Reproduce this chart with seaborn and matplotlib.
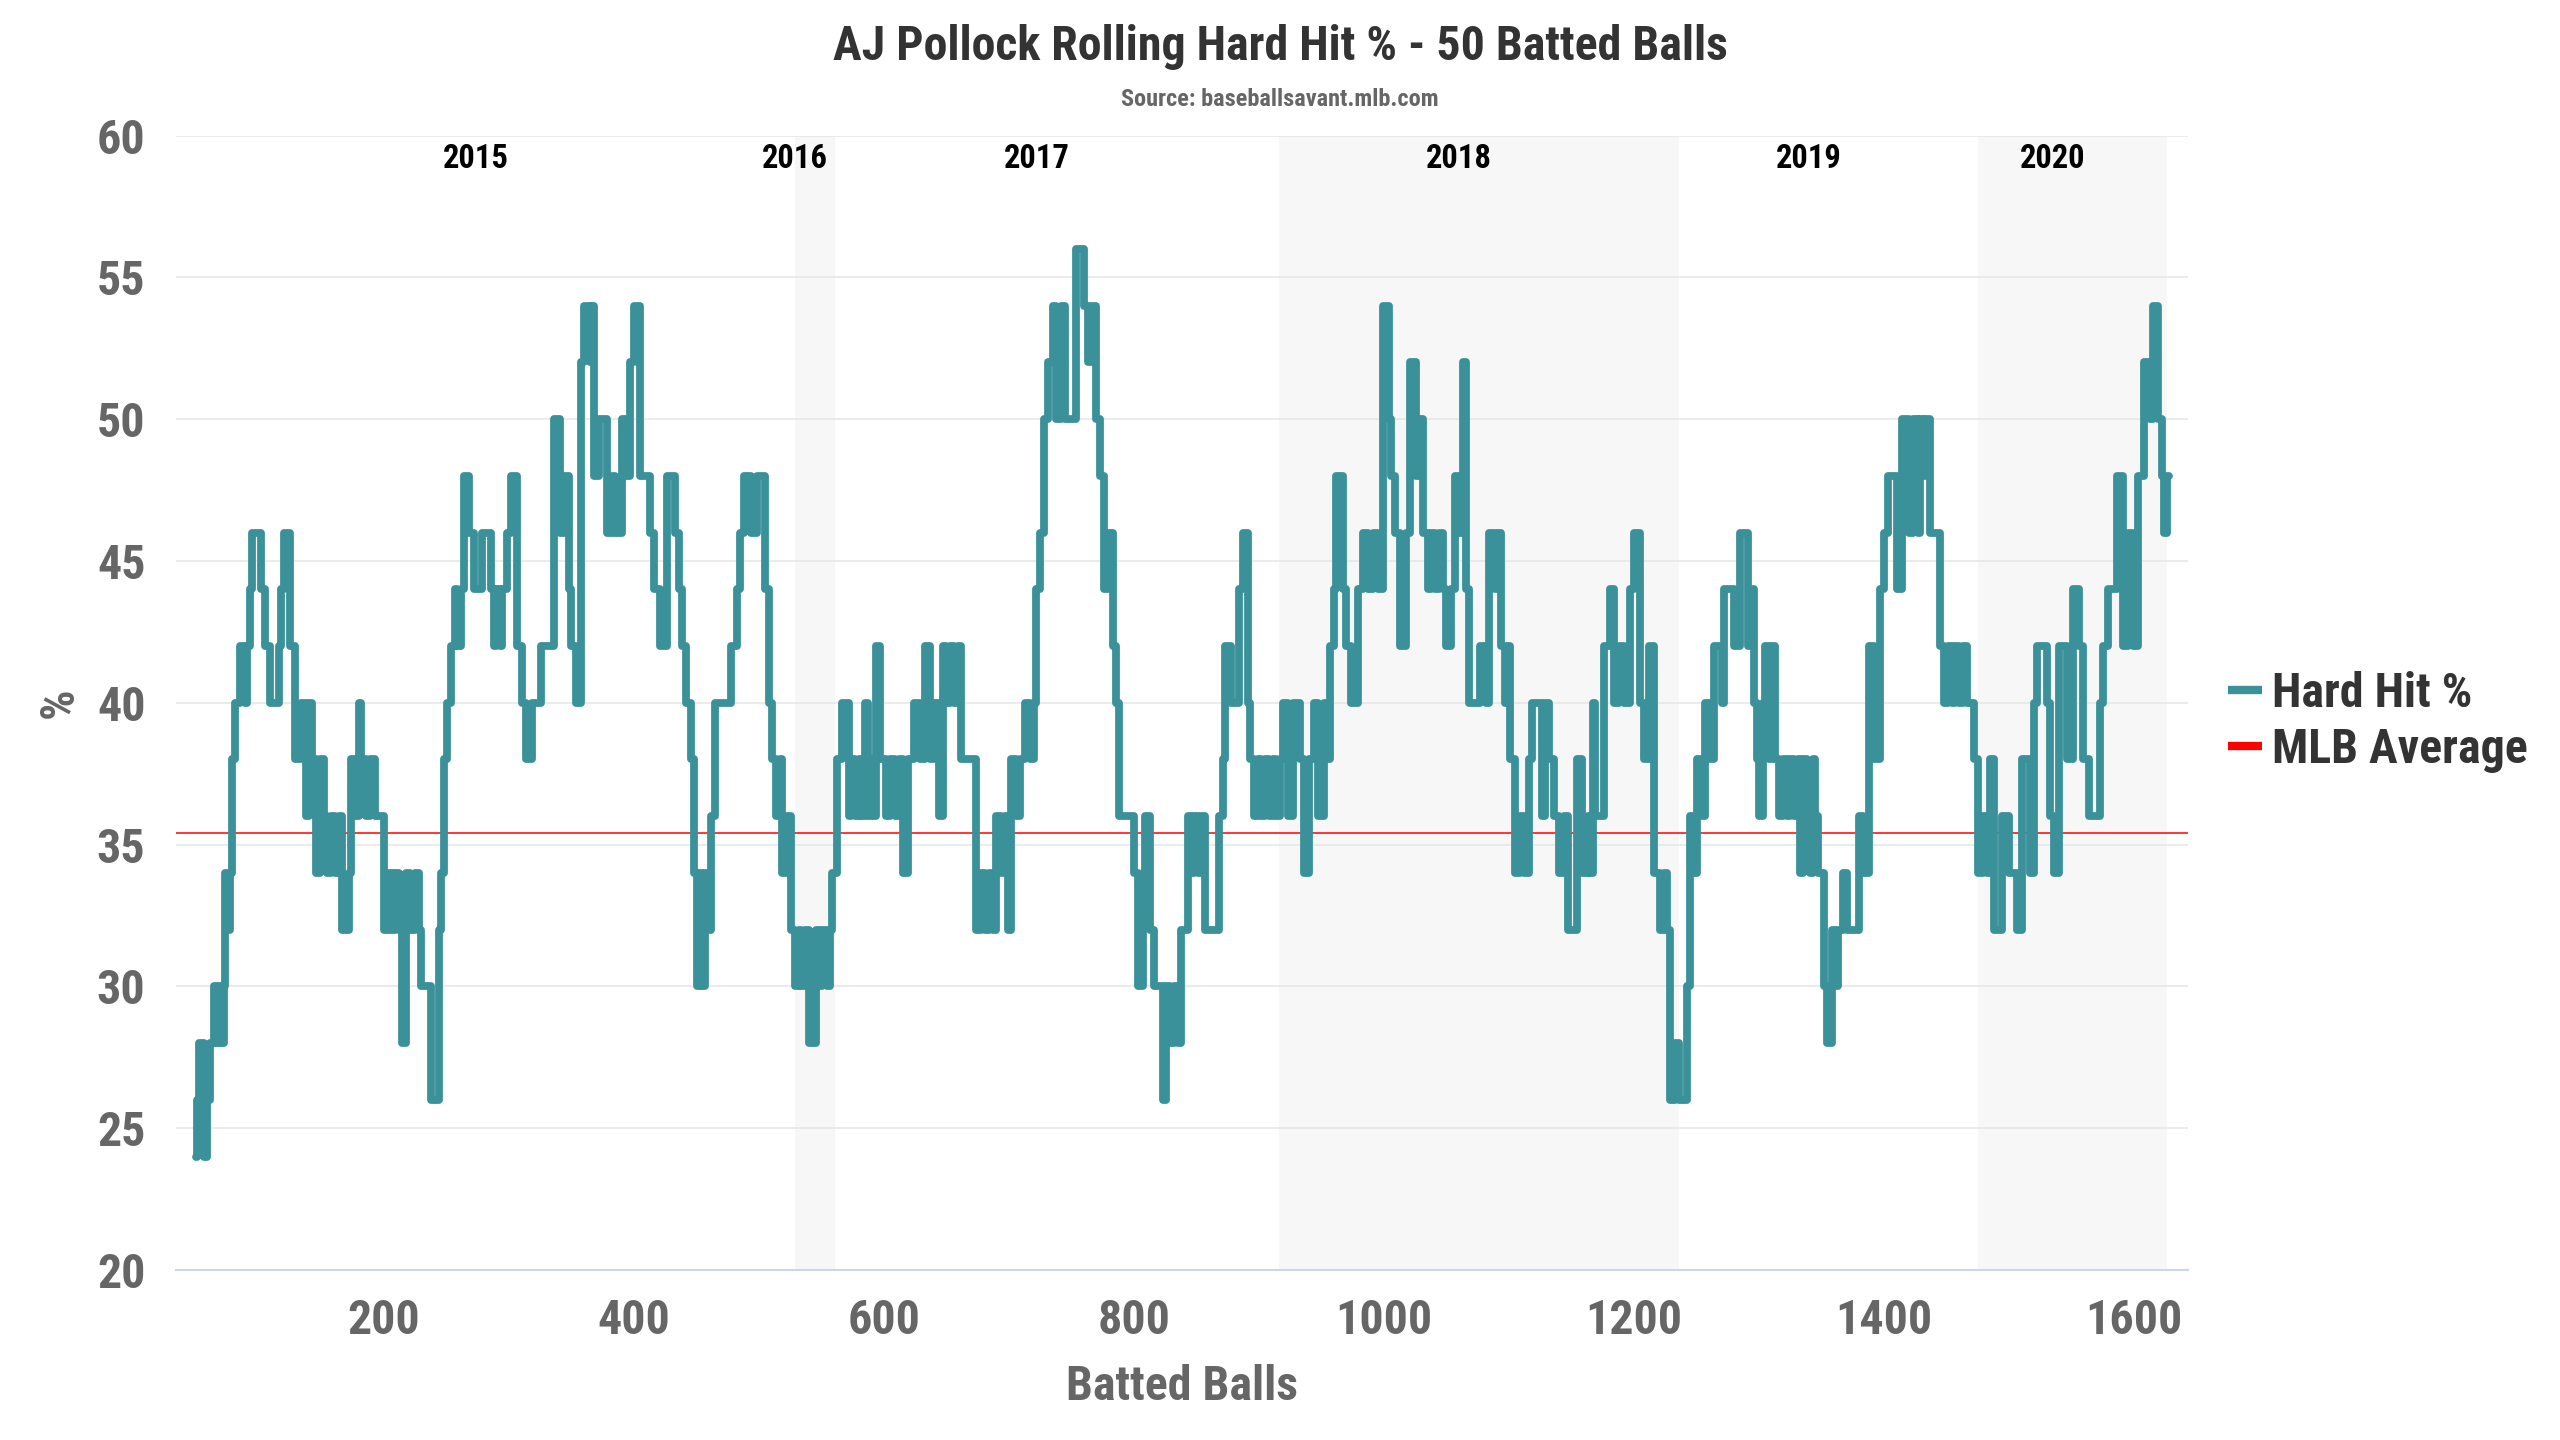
import matplotlib
matplotlib.use("Agg")
import matplotlib.pyplot as plt
from matplotlib import font_manager as fm
from matplotlib.lines import Line2D
import matplotlib.transforms as mtransforms
import seaborn as sns
import pandas as pd

# ---------------- data ----------------
# batted-ball index where the rolling value changes ...
batted_balls = [
    50, 51, 52, 56, 59, 61, 64, 66, 68, 70,
    72, 73, 75, 77, 79, 81, 85, 89, 91, 93,
    95, 102, 105, 109, 116, 118, 120, 125, 129, 134,
    138, 140, 143, 146, 149, 152, 155, 158, 161, 164,
    167, 172, 174, 177, 180, 182, 186, 189, 193, 200,
    204, 207, 209, 212, 215, 218, 221, 225, 228, 230,
    238, 244, 246, 248, 251, 254, 257, 259, 262, 264,
    268, 272, 279, 286, 288, 290, 293, 295, 299, 302,
    307, 311, 314, 319, 326, 336, 341, 344, 348, 350,
    354, 358, 360, 365, 367, 368, 372, 379, 383, 385,
    391, 394, 397, 400, 405, 413, 416, 421, 427, 433,
    436, 439, 442, 446, 448, 451, 453, 455, 457, 459,
    462, 465, 478, 483, 485, 488, 494, 499, 505, 508,
    511, 514, 517, 519, 522, 526, 529, 532, 534, 537,
    540, 546, 548, 551, 555, 557, 559, 563, 567, 572,
    574, 577, 580, 582, 585, 587, 590, 592, 594, 597,
    602, 605, 609, 612, 615, 619, 624, 629, 633, 637,
    640, 644, 647, 650, 653, 656, 659, 662, 674, 678,
    681, 684, 687, 690, 694, 697, 699, 702, 706, 709,
    713, 717, 720, 722, 725, 728, 731, 735, 738, 742,
    745, 754, 760, 763, 766, 770, 773, 776, 779, 783,
    786, 788, 800, 803, 807, 809, 813, 816, 823, 826,
    829, 832, 835, 838, 843, 846, 848, 851, 854, 857,
    868, 871, 873, 878, 884, 887, 891, 893, 896, 899,
    902, 905, 908, 911, 914, 917, 919, 923, 927, 933,
    936, 940, 944, 947, 952, 955, 957, 960, 962, 967,
    970, 974, 979, 983, 987, 991, 995, 999, 1004, 1006,
    1009, 1013, 1018, 1021, 1026, 1028, 1031, 1035, 1038, 1041,
    1044, 1047, 1050, 1054, 1057, 1060, 1063, 1066, 1068, 1077,
    1082, 1084, 1089, 1091, 1094, 1097, 1099, 1101, 1105, 1109,
    1112, 1116, 1118, 1126, 1129, 1132, 1136, 1140, 1144, 1147,
    1154, 1158, 1163, 1165, 1167, 1169, 1176, 1181, 1184, 1188,
    1192, 1197, 1200, 1205, 1208, 1212, 1216, 1221, 1224, 1226,
    1229, 1233, 1236, 1242, 1245, 1248, 1250, 1254, 1257, 1261,
    1264, 1270, 1272, 1280, 1285, 1291, 1293, 1296, 1298, 1300,
    1303, 1305, 1308, 1310, 1313, 1316, 1319, 1322, 1325, 1328,
    1331, 1333, 1335, 1338, 1341, 1343, 1345, 1347, 1352, 1354,
    1358, 1361, 1363, 1367, 1370, 1380, 1383, 1388, 1392, 1397,
    1400, 1403, 1410, 1414, 1420, 1423, 1427, 1429, 1431, 1433,
    1437, 1445, 1448, 1451, 1454, 1457, 1460, 1463, 1466, 1472,
    1475, 1479, 1482, 1485, 1488, 1494, 1500, 1506, 1510, 1517,
    1520, 1522, 1530, 1533, 1536, 1540, 1546, 1551, 1556, 1559,
    1564, 1573, 1575, 1579, 1586, 1591, 1595, 1599, 1603, 1608,
    1613, 1615, 1619, 1622, 1624, 1626, 1628,
]
# ... and the rolling hard-hit % from that batted ball on
hard_hit_pct = [
    24, 26, 28, 24, 26, 28, 30, 28, 30, 28,
    30, 34, 32, 34, 38, 40, 42, 40, 42, 44,
    46, 44, 42, 40, 42, 44, 46, 42, 38, 40,
    36, 40, 38, 34, 38, 36, 34, 36, 34, 36,
    32, 34, 38, 36, 40, 38, 36, 38, 36, 32,
    34, 32, 34, 32, 28, 34, 32, 34, 32, 30,
    26, 32, 34, 38, 40, 42, 44, 42, 44, 48,
    46, 44, 46, 44, 42, 44, 42, 44, 46, 48,
    42, 40, 38, 40, 42, 50, 46, 48, 44, 42,
    40, 52, 54, 52, 54, 48, 50, 46, 48, 46,
    50, 48, 52, 54, 48, 46, 44, 42, 48, 46,
    44, 42, 40, 38, 34, 30, 34, 30, 34, 32,
    36, 40, 42, 44, 46, 48, 46, 48, 44, 40,
    38, 36, 38, 34, 36, 32, 30, 32, 30, 32,
    28, 32, 30, 32, 30, 32, 34, 38, 40, 36,
    38, 36, 38, 36, 40, 36, 38, 36, 42, 38,
    36, 38, 36, 38, 34, 38, 40, 38, 42, 38,
    40, 36, 42, 40, 42, 40, 42, 38, 32, 34,
    32, 34, 32, 36, 34, 36, 32, 38, 36, 38,
    40, 38, 40, 44, 46, 50, 52, 54, 50, 54,
    50, 56, 54, 52, 54, 50, 48, 44, 46, 42,
    40, 36, 34, 30, 34, 36, 32, 30, 26, 30,
    28, 30, 28, 32, 36, 34, 36, 34, 36, 32,
    36, 38, 42, 40, 44, 46, 40, 38, 36, 38,
    36, 38, 36, 38, 36, 38, 40, 36, 40, 38,
    34, 38, 40, 36, 40, 38, 42, 44, 48, 44,
    42, 40, 44, 46, 44, 46, 44, 54, 50, 48,
    46, 42, 46, 52, 48, 50, 46, 44, 46, 44,
    46, 44, 42, 44, 48, 46, 52, 44, 40, 42,
    40, 46, 44, 46, 42, 40, 42, 38, 34, 36,
    34, 38, 40, 36, 40, 38, 36, 34, 36, 32,
    38, 34, 36, 34, 40, 36, 42, 44, 40, 42,
    40, 44, 46, 40, 38, 42, 34, 32, 34, 32,
    26, 28, 26, 30, 36, 34, 38, 36, 40, 38,
    42, 40, 44, 42, 46, 42, 44, 40, 38, 36,
    40, 42, 38, 42, 38, 36, 38, 36, 38, 36,
    38, 34, 38, 36, 34, 38, 36, 34, 30, 28,
    32, 30, 32, 34, 32, 36, 34, 42, 38, 44,
    46, 48, 44, 50, 46, 50, 46, 50, 48, 50,
    46, 42, 40, 42, 40, 42, 40, 42, 40, 38,
    34, 36, 34, 38, 32, 36, 34, 32, 38, 34,
    40, 42, 40, 36, 34, 42, 38, 44, 42, 38,
    36, 40, 42, 44, 48, 42, 46, 42, 48, 52,
    50, 54, 50, 48, 46, 48, 48,
]
mlb_average = 35.4
season_labels = ["2015", "2016", "2017", "2018", "2019", "2020"]
season_edges = [50, 529, 561, 916, 1236, 1475, 1626]
shaded_seasons = ["2016", "2018", "2020"]
x_ticks = [200, 400, 600, 800, 1000, 1200, 1400, 1600]
y_ticks = [20, 25, 30, 35, 40, 45, 50, 55, 60]

df = pd.DataFrame({"Batted Balls": batted_balls, "Hard Hit %": hard_hit_pct})

# ---------------- fonts ----------------
def has_font(name):
    try:
        fm.findfont(fm.FontProperties(family=name), fallback_to_default=False)
        return True
    except Exception:
        return False

sns.set_theme(style="white")
if has_font("Roboto Condensed"):
    fam, k = "Roboto Condensed", 1.0
elif has_font("Liberation Sans Narrow"):
    fam, k = "Liberation Sans Narrow", 1.0
else:
    fam, k = "Roboto", 0.9
plt.rcParams["font.family"] = [fam, "DejaVu Sans"]

TEAL = "#3a9199"
GRAY = "#666666"
DARK = "#333333"
BIG = 34.5 * k

W, H = 2560, 1440
fig = plt.figure(figsize=(25.6, 14.4), dpi=100)
fig.patch.set_facecolor("white")
left, right, top, bottom = 176, 2188, 135.5, 1270
ax = fig.add_axes([left / W, 1 - bottom / H, (right - left) / W, (bottom - top) / H])
ax.set_facecolor("white")

# season bands
for lab, a, b in zip(season_labels, season_edges[:-1], season_edges[1:]):
    if lab in shaded_seasons:
        ax.axvspan(a, b, color="#f7f7f7", zorder=0.2, lw=0)
trans = mtransforms.blended_transform_factory(ax.transData, ax.transAxes)
for lab, a, b in zip(season_labels, season_edges[:-1], season_edges[1:]):
    ax.text((a + b) / 2 - 16, 0.979, lab, transform=trans, ha="center", va="center",
            fontsize=23.5 * k, fontweight="bold", color="black")

ax.axhline(mlb_average, color="#ff0000", lw=1.1, zorder=2)
sns.lineplot(data=df, x="Batted Balls", y="Hard Hit %", ax=ax, estimator=None,
             drawstyle="steps-post", color=TEAL, lw=5.6, zorder=3,
             solid_capstyle="round", solid_joinstyle="round", legend=False)

ax.set_xlim(34, 1643)
ax.set_ylim(20, 60)
ax.set_xticks(x_ticks)
ax.set_yticks(y_ticks)
ax.set_xticklabels([str(t) for t in x_ticks])
ax.set_yticklabels([str(t) for t in y_ticks])
ax.set_axisbelow(True)
ax.yaxis.grid(True, color="#e6e6e6", lw=1.1)
ax.xaxis.grid(False)
for s in ["left", "right", "top"]:
    ax.spines[s].set_visible(False)
ax.spines["bottom"].set_color("#ccd6eb")
ax.spines["bottom"].set_linewidth(1.5)
ax.tick_params(axis="x", direction="out", length=13, width=1.3, color="#ccd6eb",
               pad=7, labelsize=BIG, labelcolor=GRAY)
ax.tick_params(axis="y", length=0, pad=22, labelsize=BIG, labelcolor=GRAY)
for lbl in ax.get_xticklabels() + ax.get_yticklabels():
    lbl.set_fontweight("bold")
ax.set_xlabel("")
ax.set_ylabel("")

fig.text(1182 / W, 1 - 1387 / H, "Batted Balls", ha="center", va="center",
         fontsize=BIG, fontweight="bold", color=GRAY)
fig.text(60 / W, 1 - 703 / H, "%", ha="center", va="center", rotation=90,
         fontsize=BIG, fontweight="bold", color=GRAY)
fig.text(0.5, 1 - 47 / H, "AJ Pollock Rolling Hard Hit % - 50 Batted Balls",
         ha="center", va="center", fontsize=BIG, fontweight="bold", color=DARK)
fig.text(0.5, 1 - 100 / H, "Source: baseballsavant.mlb.com", ha="center", va="center",
         fontsize=17.5 * k, fontweight="bold", color=GRAY)

handles = [Line2D([], [], color=TEAL, lw=6, solid_capstyle="butt"),
           Line2D([], [], color="#ff0000", lw=6, solid_capstyle="butt")]
leg = fig.legend(handles, ["Hard Hit %", "MLB Average"], loc="center left",
                 bbox_to_anchor=(2228 / W, 1 - 722 / H), bbox_transform=fig.transFigure,
                 frameon=False, borderpad=0, borderaxespad=0, handlelength=0.7,
                 handletextpad=0.22, labelspacing=0.2,
                 prop={"family": [fam, "DejaVu Sans"], "weight": "bold", "size": BIG})
for t in leg.get_texts():
    t.set_color(DARK)

fig.savefig("out.png", dpi=100, facecolor="white")
